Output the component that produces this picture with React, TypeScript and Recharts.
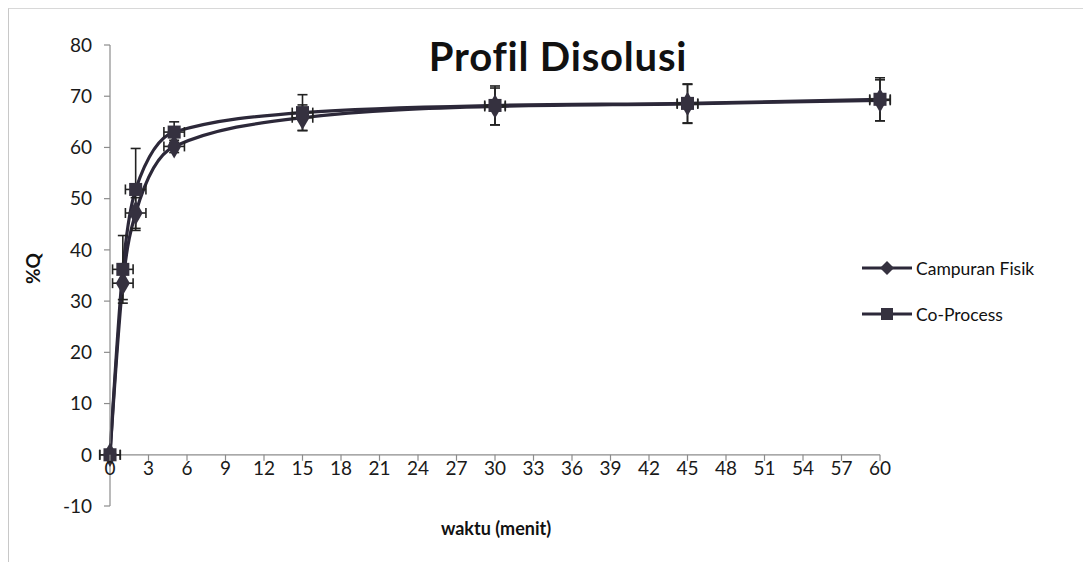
import React from 'react';
import { ComposedChart, Line, Scatter, XAxis, YAxis, ZAxis, ReferenceLine, ErrorBar } from 'recharts';

// waktu (menit)
const TIME = [0, 1, 2, 5, 15, 30, 45, 60];
const TIME_SD = [0.8, 0.8, 0.8, 0.8, 0.8, 0.8, 0.8, 0.8];

// %Q
const CAMPURAN = [0, 33.5, 47.2, 60.2, 65.8, 68.0, 68.5, 69.2];
const CAMPURAN_SD = [0, 3.2, 3.0, 1.2, 2.5, 3.6, 3.8, 4.0];
const COPROCESS = [0, 36.2, 51.8, 63.0, 66.8, 68.2, 68.6, 69.4];
const COPROCESS_SD = [0, 6.6, 8.0, 2.0, 3.5, 3.8, 3.8, 4.2];

const X_TICKS = [0, 3, 6, 9, 12, 15, 18, 21, 24, 27, 30, 33, 36, 39, 42, 45, 48, 51, 54, 57, 60];
const Y_TICKS = [-10, 0, 10, 20, 30, 40, 50, 60, 70, 80];

const SERIES = [
  { key: 'campuran', name: 'Campuran Fisik', shape: 'diamond' },
  { key: 'co', name: 'Co-Process', shape: 'square' },
];

const W = 1083;
const H = 554;
const MARGIN = { top: 37, right: 211, left: 42, bottom: 0 };
const X_AXIS_H = 56;
const PLOT_H = H - MARGIN.top - MARGIN.bottom - X_AXIS_H;
const ZERO_OFFSET = (PLOT_H * 10) / 90;

const AXIS = '#8c8c8c';
const LINE = '#2c2839';
const MARK = '#35313f';
const FONT = 'Lato, "Open Sans", sans-serif';

const data = TIME.map((t, i) => ({
  time: t,
  timeSd: TIME_SD[i],
  campuran: CAMPURAN[i],
  campuranSd: CAMPURAN_SD[i],
  co: COPROCESS[i],
  coSd: COPROCESS_SD[i],
}));

const XTick = ({ x, y, payload }: any) => {
  const y0 = y - ZERO_OFFSET;
  return (
    <g>
      <line x1={x} x2={x} y1={y0} y2={y0 + 6} stroke={AXIS} strokeWidth={1.2} />
      <text x={x} y={y0 + 20} textAnchor="middle" fontSize={19} fill="#1a1a1a" fontFamily={FONT}>
        {payload.value}
      </text>
    </g>
  );
};

const NoMark = () => <g />;

const LegendIcon = ({ shape }: { shape: string }) => (
  <svg width={50} height={16} style={{ marginRight: 4 }}>
    <line x1={0} x2={50} y1={8} y2={8} stroke={LINE} strokeWidth={3} />
    {shape === 'square' ? (
      <rect x={19} y={2} width={12} height={12} fill={MARK} />
    ) : (
      <polygon points="25,1 32,8 25,15 18,8" fill={MARK} />
    )}
  </svg>
);

export default function App() {
  return (
    <div style={{ position: 'relative', width: W, height: H, borderLeft: '1px solid #c8c8c8', borderTop: '1px solid #d8d8d8', boxSizing: 'border-box' }}>
      <ComposedChart width={W} height={H} data={data} margin={MARGIN} style={{ position: 'absolute', left: -1, top: -1 }}>
        <XAxis
          type="number"
          dataKey="time"
          domain={[0, 60]}
          allowDataOverflow
          ticks={X_TICKS}
          interval={0}
          height={X_AXIS_H}
          axisLine={false}
          tickLine={false}
          tickSize={0}
          tickMargin={0}
          tick={<XTick />}
        />
        <XAxis xAxisId="marks" type="number" dataKey="time" domain={[0, 60]} hide />
        <YAxis
          type="number"
          domain={[-10, 80]}
          ticks={Y_TICKS}
          interval={0}
          width={60}
          axisLine={{ stroke: AXIS, strokeWidth: 1.2 }}
          tickLine={{ stroke: AXIS, strokeWidth: 1.2 }}
          tickSize={6}
          tickMargin={12}
          tick={{ fontSize: 19, fill: '#1a1a1a', fontFamily: FONT }}
        />
        <ZAxis type="number" range={[170, 170]} />
        <ReferenceLine y={0} stroke={AXIS} strokeWidth={1.2} />
        {SERIES.map((s) => (
          <Line
            key={`line-${s.key}`}
            xAxisId="marks"
            type="monotone"
            dataKey={s.key}
            stroke={LINE}
            strokeWidth={3.2}
            dot={false}
            legendType="none"
            isAnimationActive={false}
          />
        ))}
        {SERIES.map((s) => (
          <Scatter
            key={`err-${s.key}`}
            dataKey={s.key}
            shape={<NoMark />}
            legendType="none"
            isAnimationActive={false}
          >
            <ErrorBar dataKey={`${s.key}Sd`} direction="y" width={5} stroke="#222" strokeWidth={1.6} />
            <ErrorBar dataKey="timeSd" direction="x" width={5} stroke="#222" strokeWidth={1.6} />
          </Scatter>
        ))}
        {SERIES.map((s) => (
          <Scatter
            key={`pts-${s.key}`}
            xAxisId="marks"
            name={s.name}
            dataKey={s.key}
            shape={s.shape as any}
            fill={MARK}
            isAnimationActive={false}
          />
        ))}
      </ComposedChart>

      <div style={{ position: 'absolute', left: 0, width: 1098, top: 27, textAlign: 'center', fontFamily: FONT, fontWeight: 700, fontSize: 40, letterSpacing: 0.8, color: '#111', lineHeight: 1 }}>
        Profil Disolusi
      </div>
      <div style={{ position: 'absolute', left: 8, top: 244, width: 30, height: 30, display: 'flex', alignItems: 'center', justifyContent: 'center' }}>
        <div style={{ transform: 'rotate(-90deg)', fontFamily: FONT, fontWeight: 700, fontSize: 19, color: '#111', whiteSpace: 'nowrap' }}>%Q</div>
      </div>
      <div style={{ position: 'absolute', left: 102, width: 770, top: 508, textAlign: 'center', fontFamily: FONT, fontWeight: 700, fontSize: 18, color: '#111' }}>
        waktu (menit)
      </div>
      <div style={{ position: 'absolute', left: 853, top: 236, fontFamily: FONT, fontSize: 17.5, color: '#111' }}>
        {SERIES.map((s) => (
          <div key={s.name} style={{ display: 'flex', alignItems: 'center', height: 46 }}>
            <LegendIcon shape={s.shape} />
            <span>{s.name}</span>
          </div>
        ))}
      </div>
    </div>
  );
}
